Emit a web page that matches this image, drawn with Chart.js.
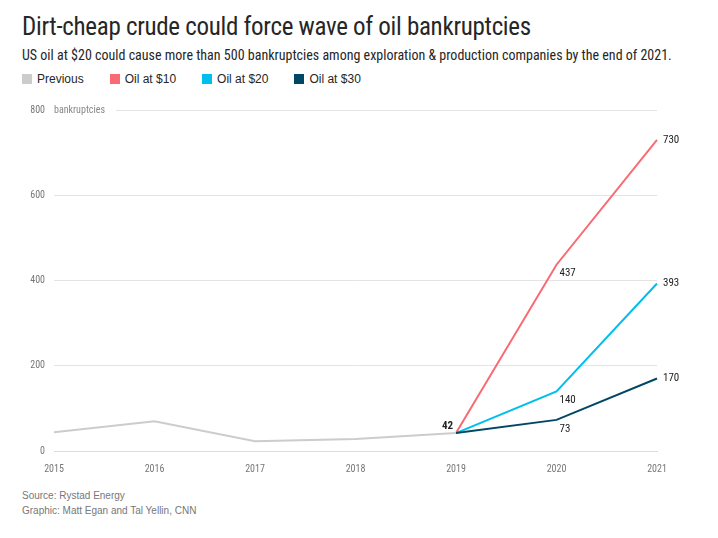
<!DOCTYPE html>
<html>
<head>
<meta charset="utf-8">
<script src="https://cdn.jsdelivr.net/npm/chart.js@4"></script>
<style>
  body { margin: 0; width: 718px; height: 538px; background: #fff; font-family: "Roboto Condensed", "Liberation Sans Narrow", "Roboto", sans-serif; position: relative; overflow: hidden; }
  h1 { position: absolute; left: 22px; top: 12px; margin: 0; font-size: 25px; font-weight: 400; color: #262626; letter-spacing: -0.3px; }
  .sub { position: absolute; left: 22px; top: 47px; font-size: 14px; color: #262626; }
  .legend { position: absolute; left: 22px; top: 72px; font-size: 12px; color: #262626; display: flex; gap: 26px; font-family: "Liberation Sans", Arial, sans-serif; }
  .legend span i { display: inline-block; width: 10px; height: 10px; margin-right: 5px; vertical-align: -1px; }
  .foot { position: absolute; left: 22px; top: 488px; font-size: 10px; color: #777; line-height: 15px; font-family: "Liberation Sans", Arial, sans-serif; }
  #wrap { position: absolute; left: 0; top: 95px; width: 718px; height: 384px; }
</style>
</head>
<body>
<h1>Dirt-cheap crude could force wave of oil bankruptcies</h1>
<div class="sub">US oil at $20 could cause more than 500 bankruptcies among exploration &amp; production companies by the end of 2021.</div>
<div class="legend">
  <span><i style="background:#cccccc"></i>Previous</span>
  <span><i style="background:#f96a74"></i>Oil at $10</span>
  <span><i style="background:#00bfee"></i>Oil at $20</span>
  <span><i style="background:#004766"></i>Oil at $30</span>
</div>
<div id="wrap"><canvas id="c"></canvas></div>
<div class="foot">Source: Rystad Energy<br>Graphic: Matt Egan and Tal Yellin, CNN</div>
<script>
// データ
const years = ['2015', '2016', '2017', '2018', '2019', '2020', '2021'];
const previous = [44, 70, 23, 28, 42, null, null];
const oil10 = [null, null, null, null, 42, 437, 730];
const oil20 = [null, null, null, null, 42, 140, 393];
const oil30 = [null, null, null, null, 42, 73, 170];
const yTicks = [0, 200, 400, 600, 800];

// 値ラベルと軸タイトル
const labelPlugin = {
    id: 'labels',
    afterDatasetsDraw(chart) {
        const ctx = chart.ctx;
        const x = chart.scales.x, y = chart.scales.y;
        ctx.save();
        ctx.font = '11px "Roboto Condensed", "Liberation Sans Narrow", sans-serif';
        ctx.fillStyle = '#222';
        ctx.textBaseline = 'middle';
        [oil10, oil20, oil30].forEach(s => {
            [5, 6].forEach(i => {
                const px = x.getPixelForValue(i) + (i === 6 ? 6 : 3);
                const py = y.getPixelForValue(s[i]) + (i === 6 ? 0 : 9);
                ctx.fillText(String(s[i]), px, py);
            });
        });
        ctx.font = 'bold 11px "Roboto Condensed", "Liberation Sans Narrow", sans-serif';
        ctx.textAlign = 'right';
        ctx.fillText('42', x.getPixelForValue(4) - 3, y.getPixelForValue(42) - 7);
        ctx.textAlign = 'left';
        ctx.font = '10px "Roboto Condensed", "Liberation Sans Narrow", sans-serif';
        const top = y.getPixelForValue(800);
        ctx.fillStyle = '#fff';
        ctx.fillRect(x.left, top - 6, 62, 12);
        ctx.fillStyle = '#888';
        ctx.fillText('bankruptcies', x.left, top);
        ctx.restore();
    }
};

function line(data, color) {
    return { data, borderColor: color, borderWidth: 2, pointRadius: 0, tension: 0, spanGaps: false };
}

new Chart(document.getElementById('c'), {
    type: 'line',
    data: {
        labels: years,
        datasets: [
            line(previous, '#cccccc'),
            line(oil30, '#004766'),
            line(oil20, '#00bfee'),
            line(oil10, '#f96a74')
        ]
    },
    options: {
        responsive: true,
        maintainAspectRatio: false,
        animation: false,
        layout: { padding: { right: 61, top: 1 } },
        plugins: { legend: { display: false }, tooltip: { enabled: false } },
        scales: {
            x: {
                offset: false,
                grid: { display: false },
                border: { color: '#ddd' },
                ticks: { color: '#777', font: { size: 10, family: '"Roboto Condensed", "Liberation Sans Narrow", sans-serif' }, padding: 4, maxRotation: 0 }
            },
            y: {
                min: 0, max: 800,
                afterFit(s) { s.width = 54; },
                afterBuildTicks(s) { s.ticks = yTicks.map(v => ({ value: v })); },
                grid: { color: '#e3e3e3', drawTicks: false },
                border: { display: false },
                ticks: { color: '#777', padding: 9, font: { size: 10, family: '"Roboto Condensed", "Liberation Sans Narrow", sans-serif' } }
            }
        }
    },
    plugins: [labelPlugin]
});
</script>
</body>
</html>
